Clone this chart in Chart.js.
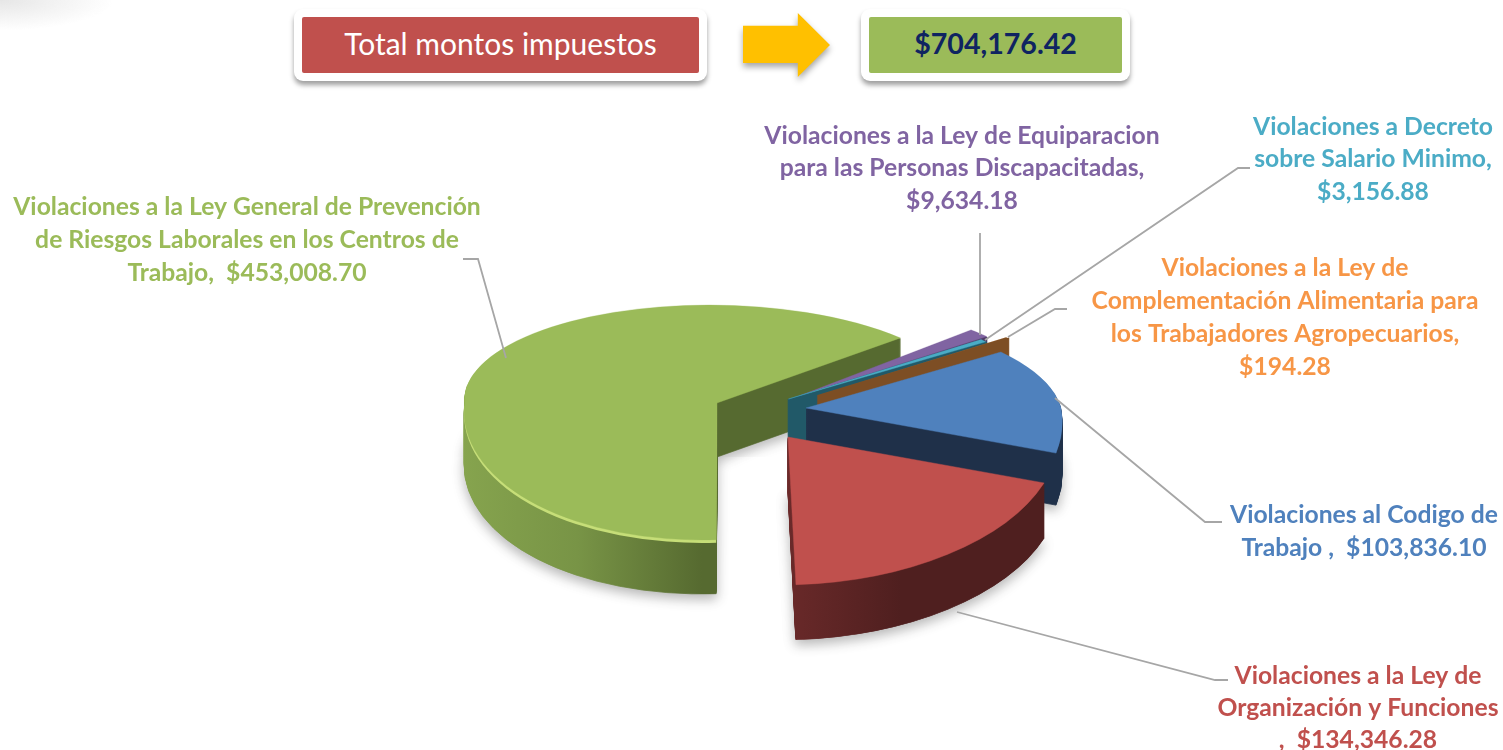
<!DOCTYPE html>
<html lang="es">
<head>
<meta charset="utf-8">
<title>Total montos impuestos</title>
<script src="https://cdn.jsdelivr.net/npm/chart.js@4"></script>
<style>
  html, body { margin: 0; background: #fff; overflow: hidden; }
  #lienzo { position: absolute; left: 0; top: 0; }
  .esquina { position: absolute; left: 0; top: 0; width: 112px; height: 30px;
    background: radial-gradient(ellipse at 0 0, #e6e6e6, rgba(255,255,255,0) 72%); }
  .marco { position: absolute; top: 9px; height: 72px; background: #fff; border-radius: 9px;
    box-shadow: 0 4px 5px rgba(0,0,0,.38); }
  .caja { position: absolute; left: 8px; right: 8px; top: 8px; bottom: 8px; display: flex; box-sizing: border-box;
    padding-bottom: 5px; align-items: center; justify-content: center; font-family: Lato, sans-serif; }
  #rojo { left: 294px; width: 413px; }
  #rojo .caja { background: #c0504d; color: #fff; font-size: 30px; border-radius: 2px; }
  #verde { left: 861px; width: 269px; }
  #verde .caja { background: #9bbb59; color: #0f2461; font-size: 28.6px; font-weight: 700; border-radius: 2px; }
  .flecha { position: absolute; left: 743px; top: 13px; width: 87px; height: 64px; filter: drop-shadow(0 4px 3px rgba(0,0,0,.35)); }
  .flecha div { width: 100%; height: 100%; background: #ffc000;
    clip-path: polygon(0 20%, 63% 20%, 63% 0, 100% 50%, 63% 100%, 63% 78%, 0 78%); }
</style>
</head>
<body>
<canvas id="lienzo" width="1503" height="750"></canvas>
<div class="esquina"></div>
<div class="marco" id="rojo"><div class="caja">Total montos impuestos</div></div>
<div class="flecha"><div></div></div>
<div class="marco" id="verde"><div class="caja">$704,176.42</div></div>
<script>
const categorias = [
  "Violaciones al Codigo de Trabajo",
  "Violaciones a la Ley de Organización y Funciones",
  "Violaciones a la Ley General de Prevención de Riesgos Laborales en los Centros de Trabajo",
  "Violaciones a la Ley de Equiparacion para las Personas Discapacitadas",
  "Violaciones a Decreto sobre Salario Minimo",
  "Violaciones a la Ley de Complementación Alimentaria para los Trabajadores Agropecuarios",
];
const montos = [103836.1, 134346.28, 453008.7, 9634.18, 3156.88, 194.28];
const colores = ["#4f81bd", "#c0504d", "#9bbb59", "#8064a2", "#4bacc6", "#f79646"];

const etiquetas = [
  ["Violaciones al Codigo de", "Trabajo ,  $103,836.10"],
  ["Violaciones a la Ley de", "Organización y Funciones", ",  $134,346.28"],
  ["Violaciones a la Ley General de Prevención", "de Riesgos Laborales en los Centros de", "Trabajo,  $453,008.70"],
  ["Violaciones a la Ley de Equiparacion", "para las Personas Discapacitadas,", "$9,634.18"],
  ["Violaciones a Decreto", "sobre Salario Minimo,", "$3,156.88"],
  ["Violaciones a la Ley de", "Complementación Alimentaria para", "los Trabajadores Agropecuarios,", "$194.28"],
];

// posicion de cada texto: centro x, primera linea y, salto
const textos = [
  [1364, 515, 33], [1358, 676, 32], [247, 207, 33], [962, 136, 32.5], [1373, 127, 32.5], [1285, 268, 33],
];
const guias = [
  [[1055, 398], [1205, 522], [1222, 522]],
  [[957, 612], [1215, 680], [1228, 680]],
  [[506, 358], [478, 259], [463, 259]],
  [[980, 335], [980, 233]],
  [[985, 340], [1238, 168], [1250, 168]],
  [[1008, 337], [1055, 309], [1067, 309]],
];

// vista 3D de cada porcion: desplazamiento, escala y sesgo
const vistas = [
  { dx: 54.5, dy: 33, sx: 1, kTop: 0.383, kBot: 0.57, sTop: 0.25, sBot: 0.17, alto: 52 },
  { dx: 36.5, dy: 62, sx: 1.066, kTop: 0.58, kBot: 0.58, sTop: 0, sBot: -0.05, alto: 55 },
  { dx: -34.5, dy: 28, sx: 0.99, kTop: 0.384, kBot: 0.537, sTop: 0.08, sBot: -0.11, alto: 54 },
  { dx: 47.5, dy: 21, sx: 1, kTop: 0.39, kBot: 0.39, sTop: 0.28, sBot: 0, alto: 40 },
  { dx: 37, dy: 24, sx: 1, kTop: 0.39, kBot: 0.39, sTop: 0.2, sBot: 0, alto: 54 },
  { dx: 66.5, dy: 20, sx: 1, kTop: 0.396, kBot: 0.396, sTop: 0.33, sBot: 0, alto: 54 },
];
const paredes = [
  [[0, "#1f3049"], [1, "#1f3049"]],
  [[0, "#6b2a2a"], [0.5, "#6b2a2a"], [0.72, "#4f1f1f"], [1, "#4f1f1f"]],
  [[0, "#86a44e"], [0.25, "#789446"], [0.5, "#566a30"], [1, "#566a30"]],
  [[0, "#4e3b66"], [1, "#4e3b66"]],
  [[0, "#215968"], [1, "#215968"]],
  [[0, "#7d4e24"], [1, "#7d4e24"]],
];
const bordesPared = [1, 1, 1, 2, 4, 4];
const bordesTapa = [0.5, 0.5, 0.5, 0.5, 0.5, 0];
const ordenPintado = [2, 3, 4, 5, 0, 1];

function dibujarProyectado(ctx, el, v, ax, ay) {
  const corte = Math.round(ay);
  [[0, corte, v.kTop, v.sTop], [corte, 750 - corte, v.kBot, v.sBot]].forEach(([y0, h, k, s]) => {
    ctx.save();
    ctx.beginPath();
    ctx.rect(0, y0, 1503, h);
    ctx.clip();
    ctx.translate(ax, ay);
    ctx.transform(v.sx, 0, s * k, k, 0, 0);
    ctx.translate(-el.x, -el.y);
    el.draw(ctx);
    ctx.restore();
  });
}

const pastel3d = {
  id: "pastel3d",
  beforeDatasetDraw(chart) {
    const ctx = chart.ctx;
    const arcos = chart.getDatasetMeta(0).data;
    ordenPintado.forEach((i) => {
      const el = arcos[i];
      const v = vistas[i];
      const ax = el.x + v.dx;
      const ay = Math.round(el.y + v.dy);
      const grad = ctx.createLinearGradient(el.x - 255, 0, el.x + 255, 0);
      paredes[i].forEach(([p, c]) => grad.addColorStop(p, c));
      const original = el.options;
      el.options = { ...original, backgroundColor: grad, borderColor: grad, borderWidth: bordesPared[i] };
      for (let h = v.alto; h > 0; h--) {
        ctx.save();
        if (h === v.alto && i < 3) {
          ctx.shadowColor = "rgba(0,0,0,.28)";
          ctx.shadowBlur = 12;
          ctx.shadowOffsetY = 5;
        }
        dibujarProyectado(ctx, el, v, ax, ay + h);
        ctx.restore();
      }
      if (i === 2) {
        // brillo solo en el borde frontal
        el.options = { ...original, backgroundColor: "#c6de78", borderColor: "#c6de78", borderWidth: 0 };
        ctx.save();
        ctx.beginPath();
        ctx.rect(0, ay + 3, 1503, 750);
        ctx.clip();
        dibujarProyectado(ctx, el, v, ax, ay + 3);
        ctx.restore();
      }
      el.options = original;
      dibujarProyectado(ctx, el, v, ax, ay);
    });
    return false;
  },
  afterDraw(chart) {
    const ctx = chart.ctx;
    ctx.save();
    ctx.strokeStyle = "#a6a6a6";
    ctx.lineWidth = 1.8;
    guias.forEach((g) => {
      ctx.beginPath();
      g.forEach(([x, y], n) => (n ? ctx.lineTo(x, y) : ctx.moveTo(x, y)));
      ctx.stroke();
    });
    ctx.font = "700 24.7px Lato, sans-serif";
    ctx.textAlign = "center";
    ctx.textBaseline = "middle";
    etiquetas.forEach((lineas, i) => {
      const [cx, y0, salto] = textos[i];
      ctx.fillStyle = colores[i];
      lineas.forEach((t, n) => ctx.fillText(t, cx, y0 + n * salto));
    });
    ctx.restore();
  },
};

new Chart(document.getElementById("lienzo"), {
  type: "pie",
  data: {
    labels: categorias,
    datasets: [
      {
        data: montos,
        backgroundColor: colores,
        borderColor: colores,
        borderWidth: bordesTapa,
      },
    ],
  },
  options: {
    responsive: false,
    animation: false,
    events: [],
    rotation: 55,
    radius: 255,
    plugins: {
      legend: { display: false },
      tooltip: { enabled: false },
    },
  },
  plugins: [pastel3d],
});
</script>
</body>
</html>
